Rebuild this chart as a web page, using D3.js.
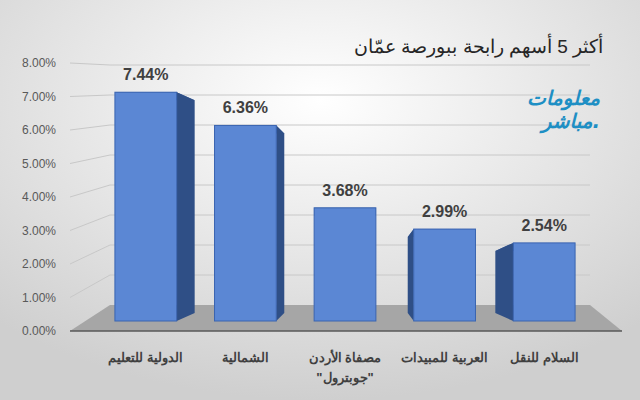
<!DOCTYPE html><html><head><meta charset="utf-8"><script src="https://cdn.jsdelivr.net/npm/d3@7"></script>
<style>body{margin:0}svg{display:block}</style></head><body><svg width="640" height="400"></svg>
<script>
const categories=["الدولية للتعليم","الشمالية","مصفاة الأردن|\"جوبترول\"","العربية للمبيدات","السلام للنقل"];
const values=[7.44,6.36,3.68,2.99,2.54];
const ticks=[0,1,2,3,4,5,6,7,8];
const title="أكثر 5 أسهم رابحة ببورصة عمّان";
const svg=d3.select("svg");
const defs=svg.append("defs");
const g=defs.append("radialGradient").attr("id","bg").attr("cx","50%").attr("cy","25%").attr("r","75%");
g.append("stop").attr("offset","0%").attr("stop-color","#ffffff");
g.append("stop").attr("offset","100%").attr("stop-color","#cfcfcf");
svg.append("rect").attr("width",640).attr("height",400).attr("fill","url(#bg)");
const yF=d3.scaleLinear().domain([0,8]).range([331,63]);
const yB=d3.scaleLinear().domain([0,8]).range([305,65]);
const yBar=d3.scaleLinear().domain([0,8]).range([321,75]);
const x=d3.scaleBand().domain(d3.range(5)).range([95,595]).paddingInner(0.38).paddingOuter(0.2);
svg.append("polygon").attr("points",`70,331 622,331 590,305 110,305`).attr("fill","#a6a6a6");
svg.append("line").attr("x1",70).attr("x2",622).attr("y1",331).attr("y2",331).attr("stroke","#595959").attr("stroke-width",1.5);
ticks.forEach(t=>{
 if(t>0){
 svg.append("line").attr("x1",70).attr("y1",yF(t)).attr("x2",110).attr("y2",yB(t)).attr("stroke","#c8c8c8");
 svg.append("line").attr("x1",110).attr("y1",yB(t)).attr("x2",590).attr("y2",yB(t)).attr("stroke","#c8c8c8");}
 svg.append("text").attr("x",56).attr("y",yF(t)+4).attr("text-anchor","end").attr("font-family","Liberation Sans, Arial").attr("font-size",12).attr("fill","#595959").text(t.toFixed(2)+"%");
});
const sides=[18,8,0,-6,-18];
values.forEach((v,i)=>{
 const x0=x(i),w=x.bandwidth(),top=yBar(v),bot=yBar(0),s=sides[i],d=8;
 svg.append("polygon").attr("points",`${x0},${top} ${x0+w},${top} ${x0+w+s},${top+d} ${x0+s},${top+d}`).attr("fill","#3e64a8");
 if(s>0)svg.append("polygon").attr("points",`${x0+w},${top} ${x0+w+s},${top+d} ${x0+w+s},${bot-8} ${x0+w},${bot}`).attr("fill","#2f4f86");
 if(s<0)svg.append("polygon").attr("points",`${x0},${top} ${x0+s},${top+d} ${x0+s},${bot-8} ${x0},${bot}`).attr("fill","#2f4f86");
 svg.append("rect").attr("x",x0).attr("y",top).attr("width",w).attr("height",bot-top).attr("fill","#5b87d4").attr("stroke","#3a64b0");
 svg.append("text").attr("x",x0+w/2).attr("y",top-12).attr("text-anchor","middle").attr("font-family","Liberation Sans, Arial").attr("font-weight","bold").attr("font-size",16).attr("fill","#404040").text(v.toFixed(2)+"%");
 categories[i].split("|").forEach((l,j)=>svg.append("text").attr("x",x0+w/2).attr("y",362+j*20).attr("text-anchor","middle").attr("font-family","Liberation Sans, Arial").attr("font-weight","bold").attr("font-size",13).attr("fill","#404040").text(l));
});
svg.append("text").attr("x",603).attr("y",53).attr("text-anchor","end").attr("font-family","Liberation Sans, Arial").attr("font-size",19).attr("fill","#262626").text(title);
svg.append("text").attr("x",600).attr("y",105).attr("text-anchor","end").attr("font-family","DejaVu Sans").attr("font-weight","bold").attr("font-style","italic").attr("font-size",20).attr("fill","#1e8fc4").text("معلومات");
svg.append("text").attr("x",600).attr("y",128).attr("text-anchor","end").attr("font-family","DejaVu Sans").attr("font-weight","bold").attr("font-style","italic").attr("font-size",20).attr("fill","#1e8fc4").text("مباشر.");
</script></body></html>
